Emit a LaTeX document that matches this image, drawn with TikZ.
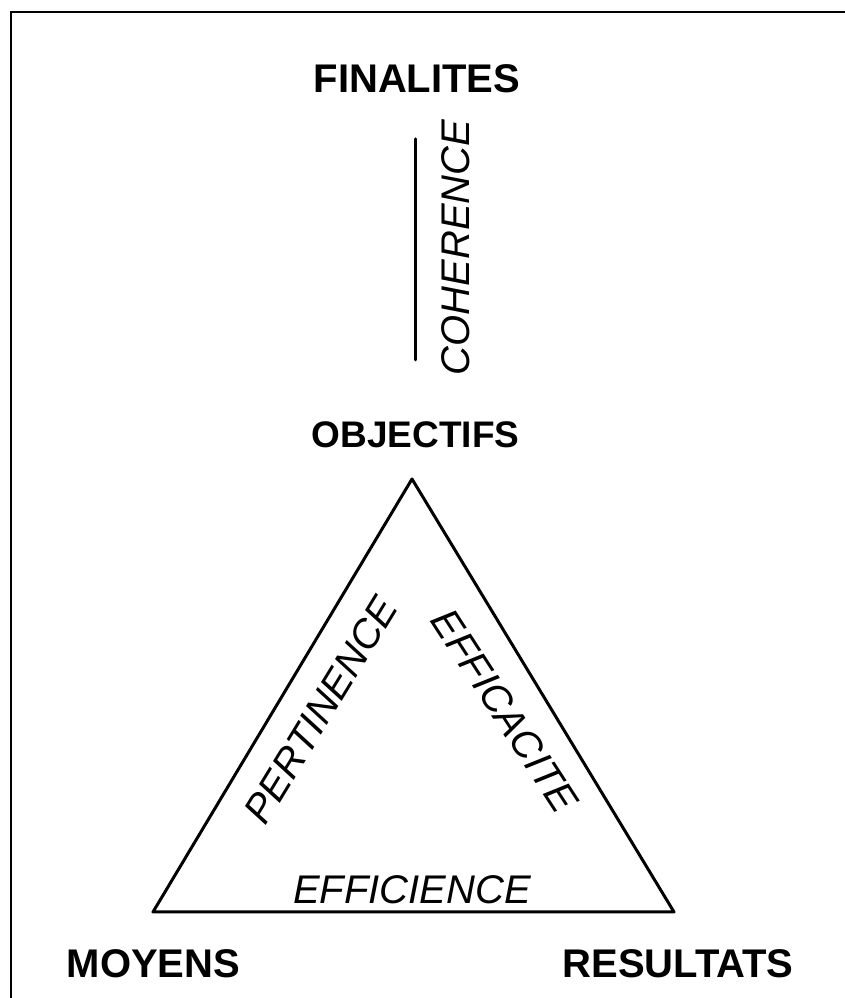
\documentclass[tikz,border=0pt]{standalone}
\usepackage{fontspec}
\setmainfont{Liberation Sans}
\begin{document}
\begin{tikzpicture}[x=1pt,y=1pt,
  title/.style={font=\fontsize{40}{40}\selectfont\bfseries, inner sep=0pt},
  quality/.style={font=\fontsize{40}{40}\selectfont\itshape, inner sep=0pt},
  edge/.style={line width=3pt, line join=round, line cap=round}]
\useasboundingbox (0,0) rectangle (845,998);
% frame (top and left only)
\draw[line width=2.4pt] (11,-2) -- (11,986) -- (847,986);
% titles
\node[title] (fin) at (417,919) {FINALITES};
\node[title, font=\fontsize{37}{37}\selectfont\bfseries] (obj) at (415.5,563) {OBJECTIFS};
\node[title] (moy) at (153.5,34) {MOYENS};
\node[title] (res) at (678,34) {RESULTATS};
% coherence
\node[quality, rotate=90] (coh) at (455.5,750.5) {COHERENCE};
\coordinate (cohtop) at (415,859);
\coordinate (cohbot) at (415,638);
\draw[edge] (cohtop) -- (cohbot);
% triangle
\coordinate (apex) at (412,519);
\coordinate (bl) at (153,86);
\coordinate (br) at (674,86);
\draw[edge] (apex) -- (bl) -- (br) -- cycle;
\node[quality, rotate=58.5] (per) at (321,288) {PERTINENCE};
\node[quality, rotate=-57] (eff) at (505,287) {EFFICACITE};
\node[quality] (effi) at (412,108) {EFFICIENCE};
\end{tikzpicture}
\end{document}
